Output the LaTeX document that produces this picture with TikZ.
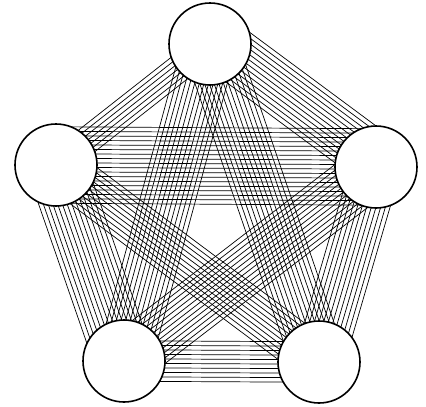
\documentclass[tikz,border=0pt]{standalone}
\usetikzlibrary{calc,backgrounds}
\tikzset{
  ball/.style={circle,draw=black,line width=1.6pt,fill=white,minimum size=82pt,inner sep=0pt},
  wire/.style={draw=black,line width=0.7pt}
}
% #1,#2 node names, #3 number of gaps, #4 shift of the bundle centre
\newcommand\wirebundle[4]{%
  \foreach \i in {0,...,#3}{%
    \pgfmathsetmacro\off{#4+(\i-#3/2)*4.5}%
    \draw[wire] ($(#1)!\off pt!90:(#2)$) -- ($(#2)!\off pt!-90:(#1)$);
  }}
\begin{document}
\begin{tikzpicture}[x=1pt,y=-1pt]
\useasboundingbox (0,0) rectangle (426,407);
\node[ball] (tp) at (210,44) {};
\node[ball] (lf) at (56,165) {};
\node[ball] (rt) at (376,167) {};
\node[ball] (bl) at (124,361) {};
\node[ball] (br) at (319,362) {};
\begin{scope}[on background layer]
  \wirebundle{tp}{rt}{12}{6}
  \wirebundle{rt}{br}{11}{0}
  \wirebundle{br}{bl}{9}{0}
  \wirebundle{bl}{lf}{13}{0}
  \wirebundle{lf}{tp}{6}{0}
  \wirebundle{lf}{rt}{17}{0}
  \wirebundle{tp}{bl}{12}{0}
  \wirebundle{tp}{br}{12}{0}
  \wirebundle{lf}{br}{10}{0}
  \wirebundle{rt}{bl}{12}{0}
\end{scope}
\end{tikzpicture}
\end{document}
